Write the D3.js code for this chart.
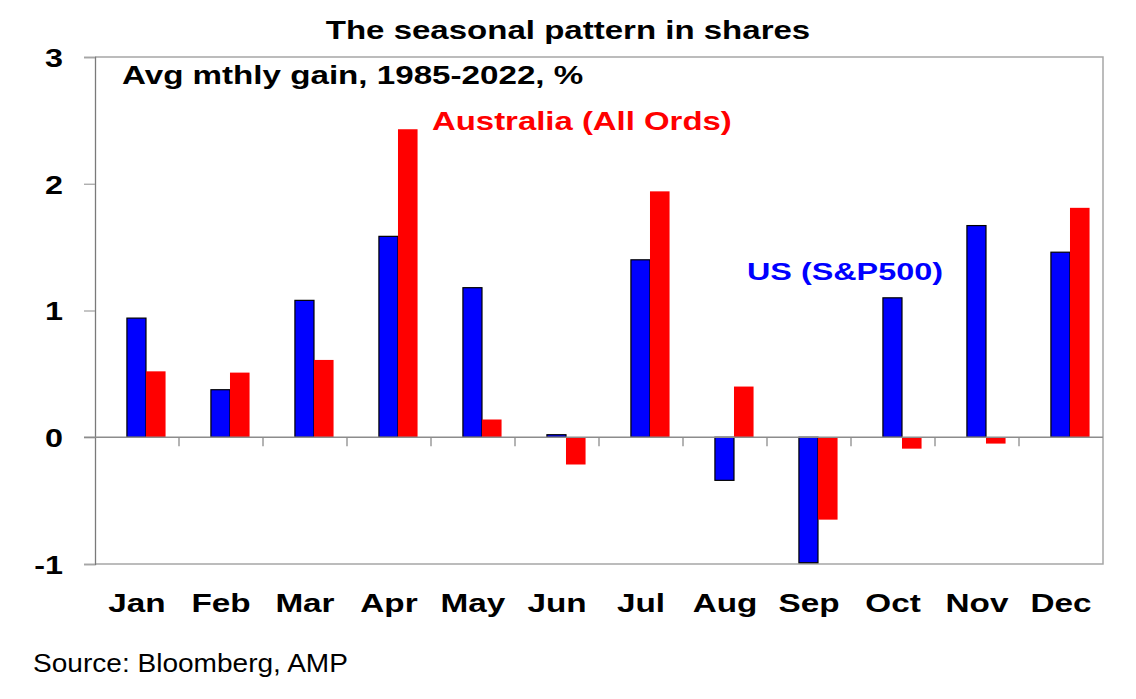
<!DOCTYPE html>
<html>
<head>
<meta charset="utf-8">
<script src="https://cdn.jsdelivr.net/npm/d3@7"></script>
<style>
  body { margin: 0; background: #fff; }
  text { font-family: "Liberation Sans", Arial, sans-serif; }
</style>
</head>
<body>
<div id="chart"></div>
<script>
// average monthly gain, 1985-2022, %
var months = ["Jan", "Feb", "Mar", "Apr", "May", "Jun", "Jul", "Aug", "Sep", "Oct", "Nov", "Dec"];
var usValues = [0.94, 0.375, 1.08, 1.585, 1.18, 0.02, 1.40, -0.34, -0.99, 1.10, 1.67, 1.46];
var ausValues = [0.52, 0.51, 0.61, 2.43, 0.14, -0.215, 1.94, 0.40, -0.65, -0.09, -0.05, 1.81];
var yTicks = [-1, 0, 1, 2, 3];

var width = 1136, height = 699;
var plotLeft = 95, plotRight = 1103, plotTop = 57, plotBottom = 564;

var svg = d3.select("#chart").append("svg")
  .attr("width", width)
  .attr("height", height);

var x = d3.scaleBand().domain(months).range([plotLeft, plotRight]);
var y = d3.scaleLinear().domain([-1, 3]).range([plotBottom, plotTop]);

// the chart font is drawn wide, so stretch each text horizontally
function stretch(sel, k) {
  sel.each(function() {
    var w = this.getComputedTextLength();
    d3.select(this)
      .attr("textLength", w * k)
      .attr("lengthAdjust", "spacingAndGlyphs");
  });
  return sel;
}

// plot border (top, right, bottom)
svg.append("path")
  .attr("d", "M" + plotLeft + "," + plotTop + "H" + plotRight + "V" + plotBottom + "H" + plotLeft)
  .attr("fill", "none")
  .attr("stroke", "#a6a6a6")
  .attr("stroke-width", 1.5);

// y axis (plain hyphen for negatives, like the original)
var yAxis = d3.axisLeft(y).tickValues(yTicks).tickSize(11).tickFormat(function(d) { return String(d); });
var gy = svg.append("g").attr("transform", "translate(" + plotLeft + ",0)").call(yAxis);
gy.select(".domain").attr("stroke", "#7a7a7a").attr("stroke-width", 1.3);
gy.selectAll(".tick line").attr("stroke", "#a6a6a6").attr("stroke-width", 1.3);
var yLabels = gy.selectAll(".tick text")
  .attr("x", -32)
  .attr("dy", "0.35em")
  .style("font-size", "26.5px")
  .style("font-weight", "bold")
  .attr("fill", "#000");
stretch(yLabels, 1.22);

// bars: US blue with outline, Australia red
var bw = x.bandwidth();
svg.selectAll("rect.us")
  .data(usValues)
  .enter()
  .append("rect")
    .attr("class", "us")
    .attr("x", function(d, i) { return x(months[i]) + bw * 0.38; })
    .attr("width", bw * 0.227)
    .attr("y", function(d) { return y(Math.max(0, d)); })
    .attr("height", function(d) { return Math.abs(y(d) - y(0)); })
    .attr("fill", "#0000ff")
    .attr("stroke", "#000")
    .attr("stroke-width", 1.2);

svg.selectAll("rect.aus")
  .data(ausValues)
  .enter()
  .append("rect")
    .attr("class", "aus")
    .attr("x", function(d, i) { return x(months[i]) + bw * 0.607; })
    .attr("width", bw * 0.233)
    .attr("y", function(d) { return y(Math.max(0, d)); })
    .attr("height", function(d) { return Math.abs(y(d) - y(0)); })
    .attr("fill", "#ff0000");

// zero line with category ticks below
svg.append("line")
  .attr("x1", plotLeft - 11).attr("x2", plotRight)
  .attr("y1", y(0)).attr("y2", y(0))
  .attr("stroke", "#8c8c8c").attr("stroke-width", 1.3);
svg.selectAll("line.xtick")
  .data(months.slice(1))
  .enter()
  .append("line")
    .attr("class", "xtick")
    .attr("x1", function(d) { return x(d); })
    .attr("x2", function(d) { return x(d); })
    .attr("y1", y(0))
    .attr("y2", y(0) + 9)
    .attr("stroke", "#8c8c8c")
    .attr("stroke-width", 1.3);

// month labels
var monthLabels = svg.selectAll("text.month")
  .data(months)
  .enter()
  .append("text")
    .attr("class", "month")
    .attr("x", function(d) { return x(d) + bw / 2; })
    .attr("y", 612)
    .attr("text-anchor", "middle")
    .style("font-size", "26px")
    .style("font-weight", "bold")
    .text(function(d) { return d; });
stretch(monthLabels, 1.28);

// titles and labels
stretch(svg.append("text")
  .attr("x", 568).attr("y", 39)
  .attr("text-anchor", "middle")
  .style("font-size", "26px").style("font-weight", "bold")
  .text("The seasonal pattern in shares"), 1.27);

stretch(svg.append("text")
  .attr("x", 122).attr("y", 84)
  .style("font-size", "25.5px").style("font-weight", "bold")
  .text("Avg mthly gain, 1985-2022, %"), 1.3);

stretch(svg.append("text")
  .attr("x", 432).attr("y", 130)
  .style("font-size", "25.5px").style("font-weight", "bold")
  .attr("fill", "#ff0000")
  .text("Australia (All Ords)"), 1.29);

stretch(svg.append("text")
  .attr("x", 747).attr("y", 280)
  .style("font-size", "24.5px").style("font-weight", "bold")
  .attr("fill", "#0000ff")
  .text("US (S&P500)"), 1.32);

stretch(svg.append("text")
  .attr("x", 33).attr("y", 672)
  .style("font-size", "25.5px")
  .text("Source: Bloomberg, AMP"), 1.1);
</script>
</body>
</html>
